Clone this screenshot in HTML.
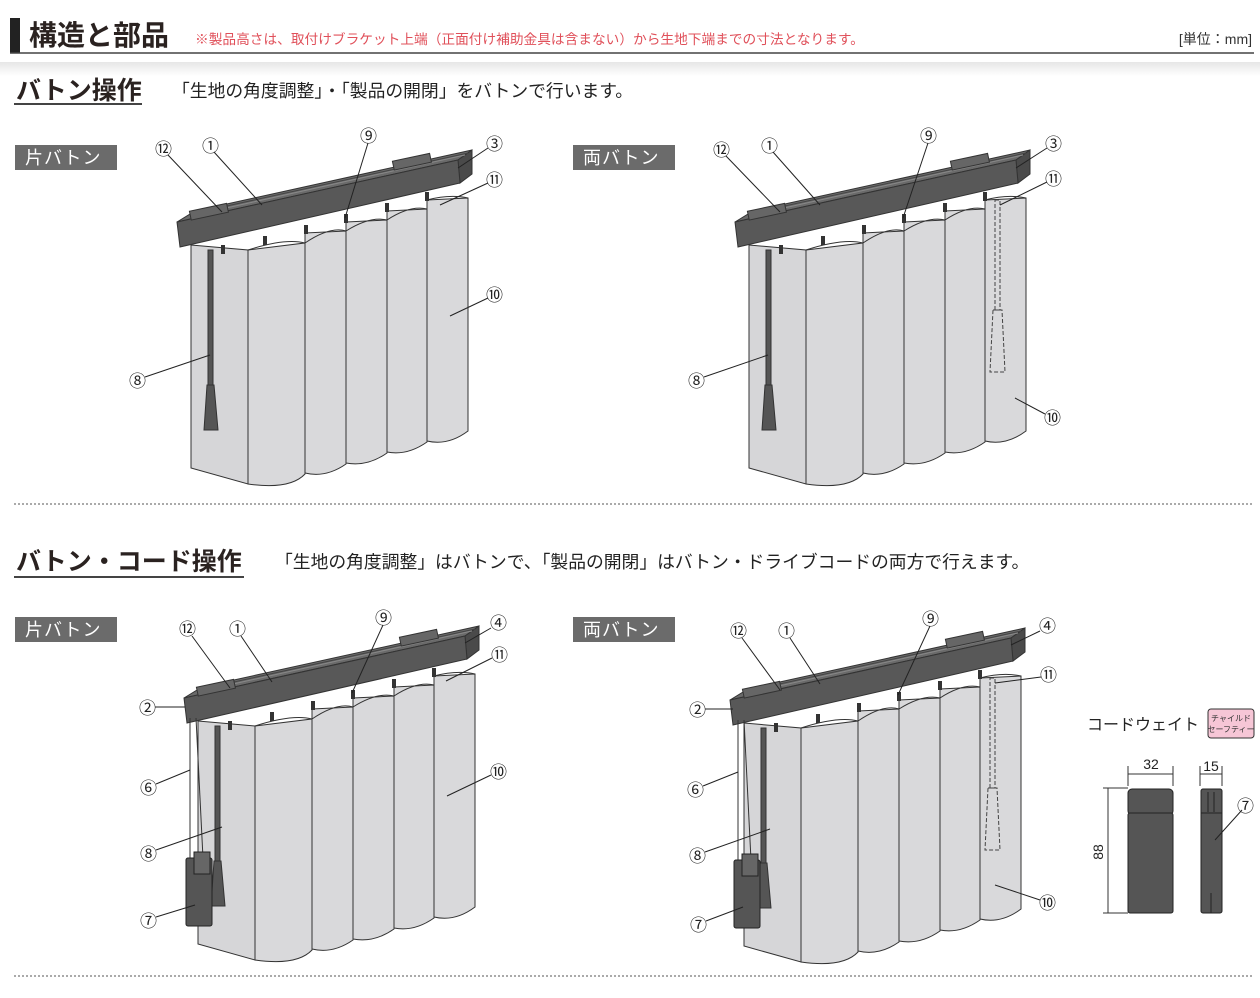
<!DOCTYPE html>
<html><head><meta charset="utf-8"><style>
html,body{margin:0;padding:0;background:#fff;}
svg{display:block;font-family:"Liberation Sans","Noto Sans CJK JP",sans-serif;}
.n{font-size:17px;fill:#222;font-family:"Noto Sans CJK JP",sans-serif;}
.l{stroke:#222;stroke-width:1;fill:none;}
</style></head><body>
<svg width="1260" height="998" viewBox="0 0 1260 998" xmlns="http://www.w3.org/2000/svg">
<defs>
<linearGradient id="sh" x1="0" y1="0" x2="0" y2="1"><stop offset="0" stop-color="#e6e6e6"/><stop offset="1" stop-color="#fff"/></linearGradient>
<g id="blind">
  <polygon points="191,245 248,250 248,484 191,468" fill="#d6d6d8" stroke="#333"/>
  <path d="M427,200 L468,198 L468,431 Q448,446 427,441 Z" fill="#d9d9db" stroke="#333"/>
  <path d="M387,211 L427,209 L427,442 Q407,456 387,452 Z" fill="#d9d9db" stroke="#333"/>
  <path d="M346,222 L387,220 L387,453 Q367,467 346,463 Z" fill="#d9d9db" stroke="#333"/>
  <path d="M305,233 L346,231 L346,464 Q326,478 305,473 Z" fill="#d9d9db" stroke="#333"/>
  <path d="M248,250 L305,243 L305,474 Q290,490 248,484 Z" fill="#d9d9db" stroke="#333"/>
  <path d="M427,200 Q450,194 468,198" fill="none" stroke="#333"/>
  <path d="M248,250 Q285,238 305,243" fill="none" stroke="#333"/>
  <path d="M305,243 Q330,226 346,231" fill="none" stroke="#333"/>
  <path d="M346,231 Q370,216 387,220" fill="none" stroke="#333"/>
  <path d="M387,220 Q410,205 427,209" fill="none" stroke="#333"/>
  <g fill="#333"><rect x="263" y="236" width="4" height="9"/><rect x="304" y="225" width="4" height="9"/><rect x="344" y="214" width="4" height="9"/><rect x="385" y="203" width="4" height="9"/><rect x="425" y="192" width="4" height="9"/><rect x="221" y="245" width="4" height="9"/></g>
  <polygon points="177,222 195,211 472,150 458,160" fill="#6a6a6a" stroke="#333"/>
  <polygon points="458,160 472,150 472,174 460,183" fill="#4a4a4a" stroke="#333"/>
  <polygon points="177,222 458,160 460,183 180,247" fill="#585858" stroke="#333"/>
  <line x1="190" y1="216" x2="465" y2="155" stroke="#888"/>
  <line x1="195" y1="213" x2="468" y2="153" stroke="#444"/>
  <rect x="190" y="207" width="38" height="9" fill="#666" stroke="#333" transform="rotate(-12 210 212)"/>
  <rect x="393" y="157" width="38" height="9" fill="#666" stroke="#333" transform="rotate(-12 413 162)"/>
  <rect x="208" y="250" width="5" height="135" fill="#555" stroke="#333"/>
  <polygon points="207,385 214,385 218,430 204,430" fill="#555" stroke="#333"/>
</g>
<g id="dbat" fill="none" stroke="#444" stroke-dasharray="4 2">
  <rect x="995" y="200" width="5" height="110"/>
  <polygon points="993,310 1002,310 1005,372 990,372"/>
</g>
<g id="cord">
  <line x1="190" y1="718" x2="190" y2="858" stroke="#333"/>
  <line x1="196" y1="718" x2="203" y2="858" stroke="#333"/>
  <rect x="186" y="858" width="26" height="68" rx="2" fill="#555" stroke="#222"/>
  <rect x="194" y="852" width="16" height="22" fill="#666" stroke="#222"/>
</g>
</defs>

<rect x="10" y="18" width="10" height="35" fill="#222"/>
<text x="29" y="45" font-size="28" font-weight="bold" fill="#2a2220">構造と部品</text>
<text x="195" y="44" font-size="13.7" fill="#e0505a">※製品高さは、取付けブラケット上端（正面付け補助金具は含まない）から生地下端までの寸法となります。</text>
<text x="1252" y="44" font-size="14" fill="#333" text-anchor="end">[単位：mm]</text>
<line x1="10" y1="53" x2="1254" y2="53" stroke="#444" stroke-width="1.5"/>
<rect x="0" y="62" width="1260" height="14" fill="url(#sh)"/>

<text x="16" y="99" font-size="25" font-weight="bold" fill="#2a2220">バトン操作</text>
<line x1="14" y1="104" x2="142" y2="104" stroke="#444" stroke-width="2"/>
<text x="172" y="97" font-size="17.8" fill="#222">「生地の角度調整」・「製品の開閉」をバトンで行います。</text>
<rect x="15" y="145" width="102" height="25" fill="#6b6b6b"/>
<text x="25" y="164" font-size="18" fill="#fff" letter-spacing="1">片バトン</text>
<rect x="573" y="145" width="102" height="25" fill="#6b6b6b"/>
<text x="583" y="164" font-size="18" fill="#fff" letter-spacing="1">両バトン</text>

<use href="#blind"/>
<use href="#blind" transform="translate(558,0)"/>
<use href="#dbat"/>

<g class="l">
<line x1="168" y1="155" x2="222" y2="212"/><line x1="214" y1="152" x2="262" y2="205"/><line x1="368" y1="143" x2="345" y2="218"/><line x1="488" y1="148" x2="458" y2="168"/><line x1="488" y1="183" x2="440" y2="205"/><line x1="488" y1="298" x2="450" y2="316"/><line x1="145" y1="377" x2="210" y2="355"/>
<line x1="726" y1="156" x2="780" y2="212"/><line x1="773" y1="152" x2="820" y2="205"/><line x1="928" y1="143" x2="903" y2="218"/><line x1="1047" y1="148" x2="1016" y2="168"/><line x1="1047" y1="182" x2="1000" y2="205"/><line x1="1045" y1="414" x2="1015" y2="398"/><line x1="704" y1="377" x2="768" y2="355"/>
</g>
<g class="n">
<text x="155" y="155">⑫</text><text x="202" y="152">①</text><text x="360" y="142">⑨</text><text x="486" y="150">③</text><text x="486" y="186">⑪</text><text x="486" y="301">⑩</text><text x="129" y="387">⑧</text>
<text x="713" y="156">⑫</text><text x="761" y="152">①</text><text x="920" y="142">⑨</text><text x="1045" y="150">③</text><text x="1045" y="185">⑪</text><text x="1044" y="424">⑩</text><text x="688" y="387">⑧</text>
</g>

<line x1="14" y1="504" x2="1254" y2="504" stroke="#555" stroke-dasharray="2 2"/>

<text x="16" y="570" font-size="25" font-weight="bold" fill="#2a2220">バトン・コード操作</text>
<line x1="14" y1="577" x2="244" y2="577" stroke="#444" stroke-width="2"/>
<text x="275" y="568" font-size="17.8" fill="#222">「生地の角度調整」はバトンで、「製品の開閉」はバトン・ドライブコードの両方で行えます。</text>
<rect x="15" y="617" width="102" height="25" fill="#6b6b6b"/>
<text x="25" y="636" font-size="18" fill="#fff" letter-spacing="1">片バトン</text>
<rect x="573" y="617" width="102" height="25" fill="#6b6b6b"/>
<text x="583" y="636" font-size="18" fill="#fff" letter-spacing="1">両バトン</text>

<use href="#blind" transform="translate(7,476)"/>
<use href="#blind" transform="translate(553,478)"/>
<use href="#dbat" transform="translate(-5,478)"/>
<use href="#cord"/>
<use href="#cord" transform="translate(548,2)"/>

<g class="l">
<line x1="192" y1="636" x2="230" y2="688"/><line x1="241" y1="636" x2="272" y2="682"/><line x1="383" y1="625" x2="352" y2="693"/><line x1="491" y1="628" x2="465" y2="643"/><line x1="492" y1="658" x2="446" y2="681"/><line x1="491" y1="775" x2="447" y2="796"/><line x1="155" y1="707" x2="185" y2="707"/><line x1="156" y1="784" x2="190" y2="770"/><line x1="156" y1="850" x2="222" y2="827"/><line x1="156" y1="917" x2="195" y2="905"/>
<line x1="742" y1="638" x2="780" y2="690"/><line x1="790" y1="638" x2="820" y2="684"/><line x1="930" y1="626" x2="898" y2="695"/><line x1="1040" y1="631" x2="1011" y2="645"/><line x1="1041" y1="677" x2="995" y2="683"/><line x1="1040" y1="900" x2="995" y2="885"/><line x1="705" y1="709" x2="733" y2="709"/><line x1="703" y1="786" x2="738" y2="772"/><line x1="705" y1="852" x2="770" y2="829"/><line x1="706" y1="921" x2="743" y2="907"/>
</g>
<g class="n">
<text x="179" y="635">⑫</text><text x="229" y="635">①</text><text x="375" y="624">⑨</text><text x="490" y="629">④</text><text x="491" y="661">⑪</text><text x="490" y="778">⑩</text><text x="139" y="714">②</text><text x="140" y="794">⑥</text><text x="140" y="860">⑧</text><text x="140" y="927">⑦</text>
<text x="730" y="637">⑫</text><text x="778" y="637">①</text><text x="922" y="625">⑨</text><text x="1039" y="632">④</text><text x="1040" y="681">⑪</text><text x="1039" y="909">⑩</text><text x="689" y="716">②</text><text x="687" y="796">⑥</text><text x="689" y="862">⑧</text><text x="690" y="931">⑦</text>
</g>

<text x="1087" y="730" font-size="16" fill="#222">コードウェイト</text>
<rect x="1208" y="709" width="46" height="29" rx="3" fill="#f6c6d6" stroke="#333"/>
<text x="1231" y="721" font-size="8" fill="#333" text-anchor="middle">チャイルド</text>
<text x="1231" y="732" font-size="8" fill="#333" text-anchor="middle">セーフティー</text>
<g stroke="#333" fill="none">
<line x1="1128" y1="766" x2="1128" y2="786"/><line x1="1173" y1="766" x2="1173" y2="786"/><line x1="1128" y1="774" x2="1173" y2="774"/>
<line x1="1200" y1="766" x2="1200" y2="786"/><line x1="1222" y1="766" x2="1222" y2="786"/><line x1="1200" y1="774" x2="1222" y2="774"/>
<line x1="1103" y1="788" x2="1128" y2="788"/><line x1="1103" y1="913" x2="1128" y2="913"/><line x1="1108" y1="788" x2="1108" y2="913"/>
</g>
<text x="1151" y="769" font-size="14" fill="#222" text-anchor="middle">32</text>
<text x="1211" y="771" font-size="14" fill="#222" text-anchor="middle">15</text>
<text x="1103" y="852" font-size="14" fill="#222" text-anchor="middle" transform="rotate(-90 1103 852)">88</text>
<rect x="1128" y="789" width="45" height="26" rx="4" fill="#555" stroke="#222"/>
<rect x="1128" y="813" width="45" height="100" rx="2" fill="#555" stroke="#222"/>
<rect x="1201" y="789" width="21" height="124" rx="2" fill="#555" stroke="#222"/>
<line x1="1208" y1="792" x2="1208" y2="812" stroke="#222"/><line x1="1214" y1="792" x2="1214" y2="812" stroke="#222"/>
<line x1="1211" y1="893" x2="1211" y2="913" stroke="#222"/>
<line x1="1201" y1="813" x2="1222" y2="813" stroke="#222"/>
<line x1="1215" y1="840" x2="1242" y2="810" stroke="#222"/>
<text x="1237" y="812" class="n">⑦</text>

<line x1="14" y1="976" x2="1254" y2="976" stroke="#555" stroke-dasharray="2 2"/>
</svg>
</body></html>
